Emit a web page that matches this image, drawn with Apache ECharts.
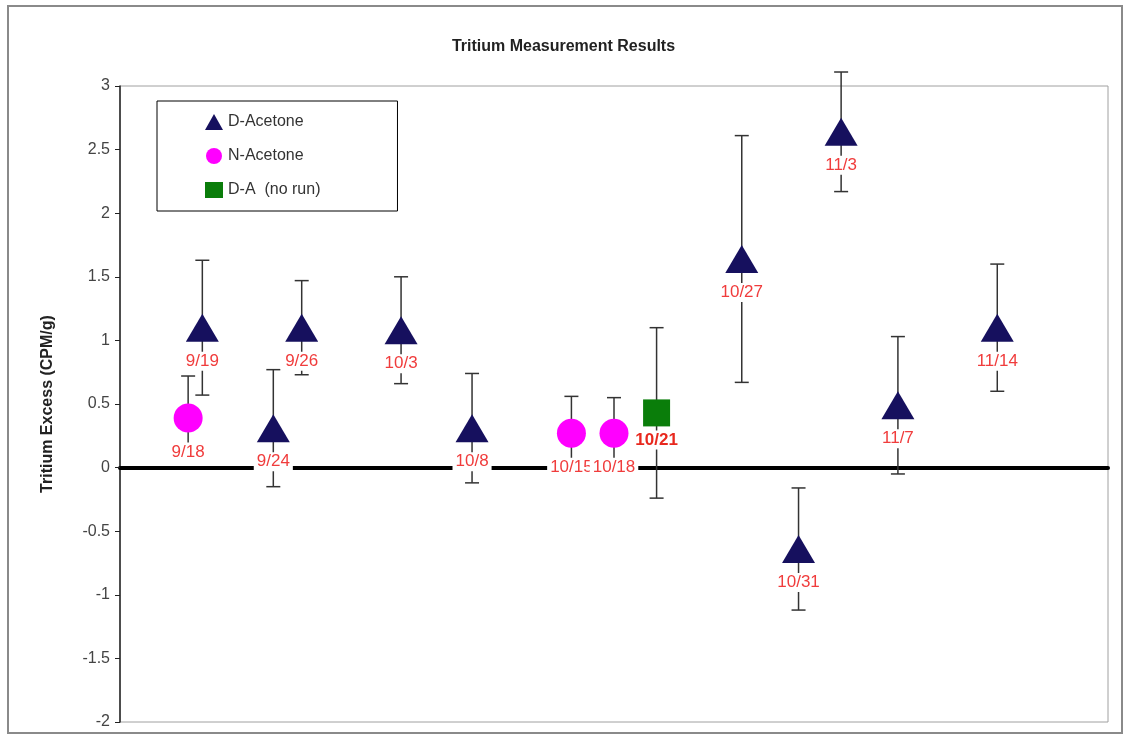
<!DOCTYPE html>
<html>
<head>
<meta charset="utf-8">
<script src="https://cdn.jsdelivr.net/npm/echarts@6/dist/echarts.min.js"></script>
<style>
  html, body { margin: 0; padding: 0; background: #fff; }
  #chart { width: 1127px; height: 738px; }
</style>
</head>
<body>
<div id="chart"></div>
<script>
// D-Acetone runs
const dAcetoneDates = ['9/19', '9/24', '9/26', '10/3', '10/8', '10/27', '10/31', '11/3', '11/7', '11/14'];
const dAcetoneValues = [1.10, 0.31, 1.10, 1.08, 0.31, 1.64, -0.64, 2.64, 0.49, 1.10];
const dAcetoneErrors = [0.53, 0.46, 0.37, 0.42, 0.43, 0.97, 0.48, 0.47, 0.54, 0.50];

// N-Acetone runs
const nAcetoneDates = ['9/18', '10/15', '10/18'];
const nAcetoneValues = [0.39, 0.27, 0.27];
const nAcetoneErrors = [0.33, 0.29, 0.28];

// D-A (no run)
const dANoRunDates = ['10/21'];
const dANoRunValues = [0.43];
const dANoRunErrors = [0.67];

const yTicks = [-2, -1.5, -1, -0.5, 0, 0.5, 1, 1.5, 2, 2.5, 3];

// days after 9/18
function toDay(s) {
  const [m, d] = s.split('/').map(Number);
  return (Date.UTC(2005, m - 1, d) - Date.UTC(2005, 8, 18)) / 86400000;
}

function points(dates, values) {
  return dates.map((d, i) => ({ value: [toDay(d), values[i]], name: d }));
}
function bars(dates, values, errs) {
  return dates.map((d, i) => [toDay(d), values[i] - errs[i], values[i] + errs[i]]);
}

const errorData = [].concat(
  bars(dAcetoneDates, dAcetoneValues, dAcetoneErrors),
  bars(nAcetoneDates, nAcetoneValues, nAcetoneErrors),
  bars(dANoRunDates, dANoRunValues, dANoRunErrors)
);

const chart = echarts.init(document.getElementById('chart'));

const labelStyle = {
  show: true,
  position: 'bottom',
  distance: 10,
  formatter: p => p.name,
  color: '#f03c3c',
  fontFamily: 'Liberation Sans, Arial, sans-serif',
  fontSize: 17,
  backgroundColor: '#fff',
  padding: [1, 3]
};

const option = {
  animation: false,
  backgroundColor: '#fff',
  textStyle: { fontFamily: 'Liberation Sans, Arial, sans-serif' },
  title: {
    text: 'Tritium Measurement Results',
    left: 'center',
    top: 34,
    textStyle: { fontSize: 16, fontWeight: 'bold', color: '#222' }
  },
  graphic: [{
    type: 'rect',
    shape: { x: 8, y: 6, width: 1114, height: 727 },
    style: { fill: 'none', stroke: '#8a8a8a', lineWidth: 2 },
    silent: true
  }],
  legend: {
    orient: 'vertical',
    left: 157,
    top: 101,
    padding: [13, 77, 13, 48],
    itemGap: 18,
    itemWidth: 18,
    itemHeight: 16,
    borderColor: '#000',
    borderWidth: 1,
    backgroundColor: '#fff',
    textStyle: { fontSize: 16, color: '#333' },
    data: [
      { name: 'D-Acetone', icon: 'triangle' },
      { name: 'N-Acetone', icon: 'circle' },
      { name: 'D-A  (no run)', icon: 'rect' }
    ]
  },
  grid: {
    left: 120, right: 19, top: 86, bottom: 16,
    show: true, borderColor: '#a0a0a0', borderWidth: 1
  },
  xAxis: {
    type: 'value',
    min: -4.8,
    max: 64.8,
    axisLine: { onZero: true, lineStyle: { color: '#000', width: 4 } },
    axisTick: { show: false },
    axisLabel: { show: false },
    splitLine: { show: false }
  },
  yAxis: {
    type: 'value',
    min: yTicks[0],
    max: yTicks[yTicks.length - 1],
    interval: 0.5,
    name: 'Tritium Excess (CPM/g)',
    nameLocation: 'middle',
    nameGap: 64,
    nameTextStyle: { fontSize: 16, fontWeight: 'bold', color: '#222' },
    axisLine: { show: true, onZero: false, lineStyle: { color: '#222', width: 1.5 } },
    axisTick: { show: true, length: 5, lineStyle: { color: '#222' } },
    axisLabel: { fontSize: 16, color: '#444', margin: 10 },
    splitLine: { show: false }
  },
  series: [
    {
      name: 'errors',
      type: 'custom',
      z: 1,
      silent: true,
      data: errorData,
      renderItem: (params, api) => {
        const x = api.value(0);
        const lo = api.coord([x, api.value(1)]);
        const hi = api.coord([x, api.value(2)]);
        const w = 7;
        const style = { stroke: '#333', lineWidth: 1.5 };
        return {
          type: 'group',
          children: [
            { type: 'line', shape: { x1: lo[0], y1: lo[1], x2: hi[0], y2: hi[1] }, style },
            { type: 'line', shape: { x1: hi[0] - w, y1: hi[1], x2: hi[0] + w, y2: hi[1] }, style },
            { type: 'line', shape: { x1: lo[0] - w, y1: lo[1], x2: lo[0] + w, y2: lo[1] }, style }
          ]
        };
      }
    },
    {
      name: 'D-Acetone',
      type: 'scatter',
      z: 3,
      symbol: 'triangle',
      symbolSize: [33, 28],
      itemStyle: { color: '#16105e', opacity: 1 },
      label: labelStyle,
      data: points(dAcetoneDates, dAcetoneValues)
    },
    {
      name: 'N-Acetone',
      type: 'scatter',
      z: 3,
      symbol: 'circle',
      symbolSize: 29,
      itemStyle: { color: '#ff00ff', opacity: 1 },
      label: labelStyle,
      data: points(nAcetoneDates, nAcetoneValues)
    },
    {
      name: 'D-A  (no run)',
      type: 'scatter',
      z: 3,
      symbol: 'rect',
      symbolSize: 27,
      itemStyle: { color: '#0a7d0a', opacity: 1 },
      label: Object.assign({}, labelStyle, { fontWeight: 'bold', color: '#e8281e', distance: 4 }),
      data: points(dANoRunDates, dANoRunValues)
    }
  ]
};

chart.setOption(option);
</script>
</body>
</html>
